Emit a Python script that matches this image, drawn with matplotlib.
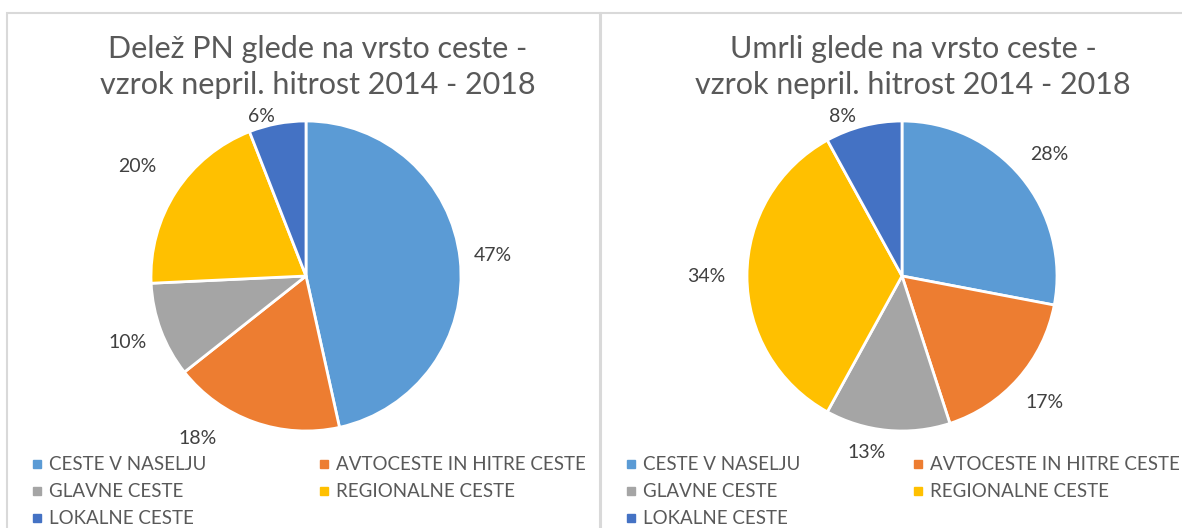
import math
import matplotlib.pyplot as plt
from matplotlib.patches import Rectangle

plt.rcParams['font.family'] = ['Lato', 'DejaVu Sans']

categories = ['CESTE V NASELJU', 'AVTOCESTE IN HITRE CESTE', 'GLAVNE CESTE',
              'REGIONALNE CESTE', 'LOKALNE CESTE']
colors = ['#5B9BD5', '#ED7D31', '#A5A5A5', '#FFC000', '#4472C4']

pn_share = [47, 18, 10, 20, 6]
deaths_share = [28, 17, 13, 34, 8]

title_left = 'Delež PN glede na vrsto ceste -\nvzrok nepril. hitrost 2014 - 2018'
title_right = 'Umrli glede na vrsto ceste -\nvzrok nepril. hitrost 2014 - 2018'

# label placement (Excel "best fit"): radial distance factor and angle shift in degrees
dist_left = [1.21, 1.26, 1.23, 1.30, 1.07]
shift_left = [0, -14, 0, 0, 5]
dist_right = [1.23, 1.23, 1.16, 1.26, 1.10]
shift_right = [0, 0, -6, 0, 6]

W, H = 1182, 528
fig = plt.figure(figsize=(W / 100, H / 100), dpi=100)


def fx(px):
    return px / W


def fy(py):
    return 1 - py / H


# panel borders
for x0, x1 in [(7, 600), (601, 1190)]:
    fig.patches.append(Rectangle((fx(x0), fy(540)), fx(x1 - x0), (540 - 13) / H,
                                 transform=fig.transFigure, fill=False,
                                 edgecolor='#d9d9d9', linewidth=1.5))


def draw_pie(cx, cy, r, values, dists, shifts, title, tx, leg_x):
    ax = fig.add_axes([fx(cx - r), fy(cy + r), fx(2 * r), 2 * r / H])
    wedges, _, autotexts = ax.pie(values, colors=colors, startangle=90, counterclock=False,
                                  autopct='%.0f%%', pctdistance=1.2,
                                  wedgeprops=dict(edgecolor='white', linewidth=2),
                                  textprops=dict(color='#404040', fontsize=14))
    tot = sum(values)
    cum = 0
    for v, t, d, s in zip(values, autotexts, dists, shifts):
        mid = 90 - (cum + v / 2) / tot * 360 + s
        cum += v
        t.set_position((d * math.cos(math.radians(mid)), d * math.sin(math.radians(mid))))
        t.set_text(f'{v}%')
    ax.set_xlim(-1, 1)
    ax.set_ylim(-1, 1)
    ax.set_aspect('equal')
    fig.text(fx(tx), fy(67), title, ha='center', va='center', fontsize=22,
             color='#595959', linespacing=1.33)
    # legend: two columns, Excel style
    for idxs, x in [([0, 2, 4], leg_x), ([1, 3], leg_x + 287)]:
        for row, i in enumerate(idxs):
            y = 464 + row * 27.2
            fig.patches.append(Rectangle((fx(x - 4), fy(y + 4)), fx(8), 8 / H,
                                         transform=fig.transFigure, color=colors[i]))
            fig.text(fx(x + 12), fy(y), categories[i], ha='left', va='center',
                     fontsize=13.5, color='#595959')


draw_pie(306, 276, 155, pn_share, dist_left, shift_left, title_left, 318, 37)
draw_pie(902, 276, 155, deaths_share, dist_right, shift_right, title_right, 913, 631)

fig.savefig('out.png', dpi=100)
